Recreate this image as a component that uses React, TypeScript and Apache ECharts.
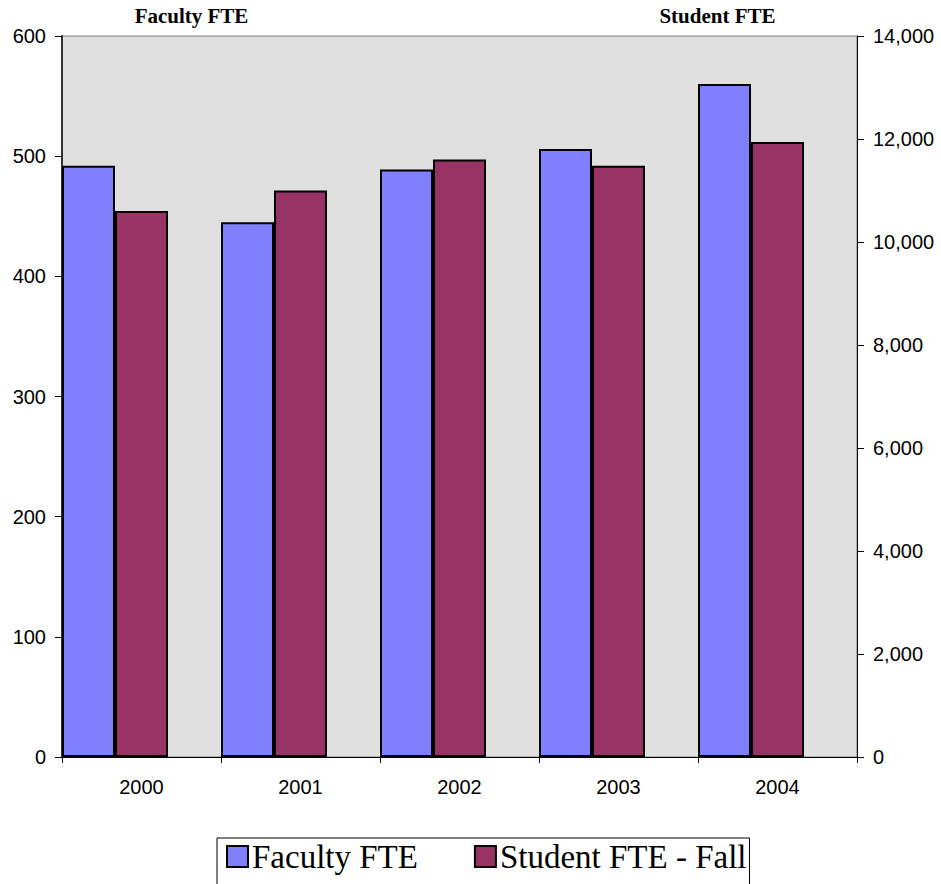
import React, { useEffect, useRef } from "react";
import * as echarts from "echarts";

const categories = ["2000", "2001", "2002", "2003", "2004"];
const facultyFTE = [492, 445, 489, 506, 560];
const studentFTE = [10600, 11000, 11600, 11480, 11940];
const spacer = [null, null, null, null, null];

export default function App() {
  const ref = useRef<HTMLDivElement>(null);
  useEffect(() => {
    if (!ref.current) return;
    const chart = echarts.init(ref.current, null, { renderer: "svg" });
    const sans = "'Liberation Sans', Arial, sans-serif";
    const serif = "'Liberation Serif', 'Times New Roman', serif";
    chart.setOption({
      animation: false,
      backgroundColor: "#ffffff",
      grid: {
        left: 62,
        right: 84,
        top: 36,
        bottom: 127,
        show: true,
        backgroundColor: "#E0E0E0",
        borderColor: "#808080",
        borderWidth: 1,
      },
      legend: {
        data: ["Faculty FTE", "Student FTE - Fall"],
        left: 217,
        top: 838,
        padding: [2, 3, 30, 9],
        itemWidth: 21,
        itemHeight: 21,
        itemGap: 56,
        borderColor: "#000",
        borderWidth: 1,
        icon: "rect",
        textStyle: { fontFamily: serif, fontSize: 33, color: "#000", padding: [0, 0, 0, -1] },
        itemStyle: { borderColor: "#000", borderWidth: 2 },
      },
      xAxis: {
        type: "category",
        data: categories,
        axisLine: { lineStyle: { color: "#000", width: 1 } },
        axisTick: { show: true, length: 6, lineStyle: { color: "#000" } },
        axisLabel: { fontFamily: sans, fontSize: 20, color: "#000", margin: 20 },
      },
      yAxis: [
        {
          type: "value",
          min: 0,
          max: 600,
          interval: 100,
          name: "Faculty FTE",
          nameLocation: "end",
          nameGap: 10,
          nameTextStyle: {
            fontFamily: serif,
            fontWeight: "bold",
            fontSize: 21,
            color: "#000",
            padding: [0, 0, 0, 259],
          },
          axisLine: { show: true, lineStyle: { color: "#333", width: 2 } },
          axisTick: { show: true, length: 7, lineStyle: { color: "#000" } },
          axisLabel: { fontFamily: sans, fontSize: 20, color: "#000", margin: 16 },
          splitLine: { show: false },
        },
        {
          type: "value",
          min: 0,
          max: 14000,
          interval: 2000,
          name: "Student FTE",
          nameLocation: "end",
          nameGap: 10,
          nameTextStyle: {
            fontFamily: serif,
            fontWeight: "bold",
            fontSize: 21,
            color: "#000",
            padding: [0, 279, 0, 0],
          },
          axisLine: { show: true, lineStyle: { color: "#000", width: 1 } },
          axisTick: { show: true, length: 7, lineStyle: { color: "#000" } },
          axisLabel: {
            fontFamily: sans,
            fontSize: 20,
            color: "#000",
            margin: 16,
            formatter: (v: number) => v.toLocaleString("en-US"),
          },
          splitLine: { show: false },
        },
      ],
      series: [
        {
          name: "Faculty FTE",
          type: "bar",
          yAxisIndex: 0,
          data: facultyFTE,
          barGap: "0%",
          barCategoryGap: "0%",
          itemStyle: { color: "#8080FF", borderColor: "#000", borderWidth: 2 },
        },
        {
          name: "Student FTE - Fall",
          type: "bar",
          yAxisIndex: 1,
          data: studentFTE,
          barGap: "0%",
          barCategoryGap: "0%",
          itemStyle: { color: "#993366", borderColor: "#000", borderWidth: 2 },
        },
        {
          name: "spacer",
          type: "bar",
          yAxisIndex: 0,
          data: spacer,
          barGap: "0%",
          barCategoryGap: "0%",
          silent: true,
          itemStyle: { color: "transparent", borderWidth: 0 },
        },
      ],
    });
    return () => chart.dispose();
  }, []);
  return (
    <div
      ref={ref}
      style={{ position: "absolute", left: 0, top: 0, width: 941, height: 884 }}
    />
  );
}
